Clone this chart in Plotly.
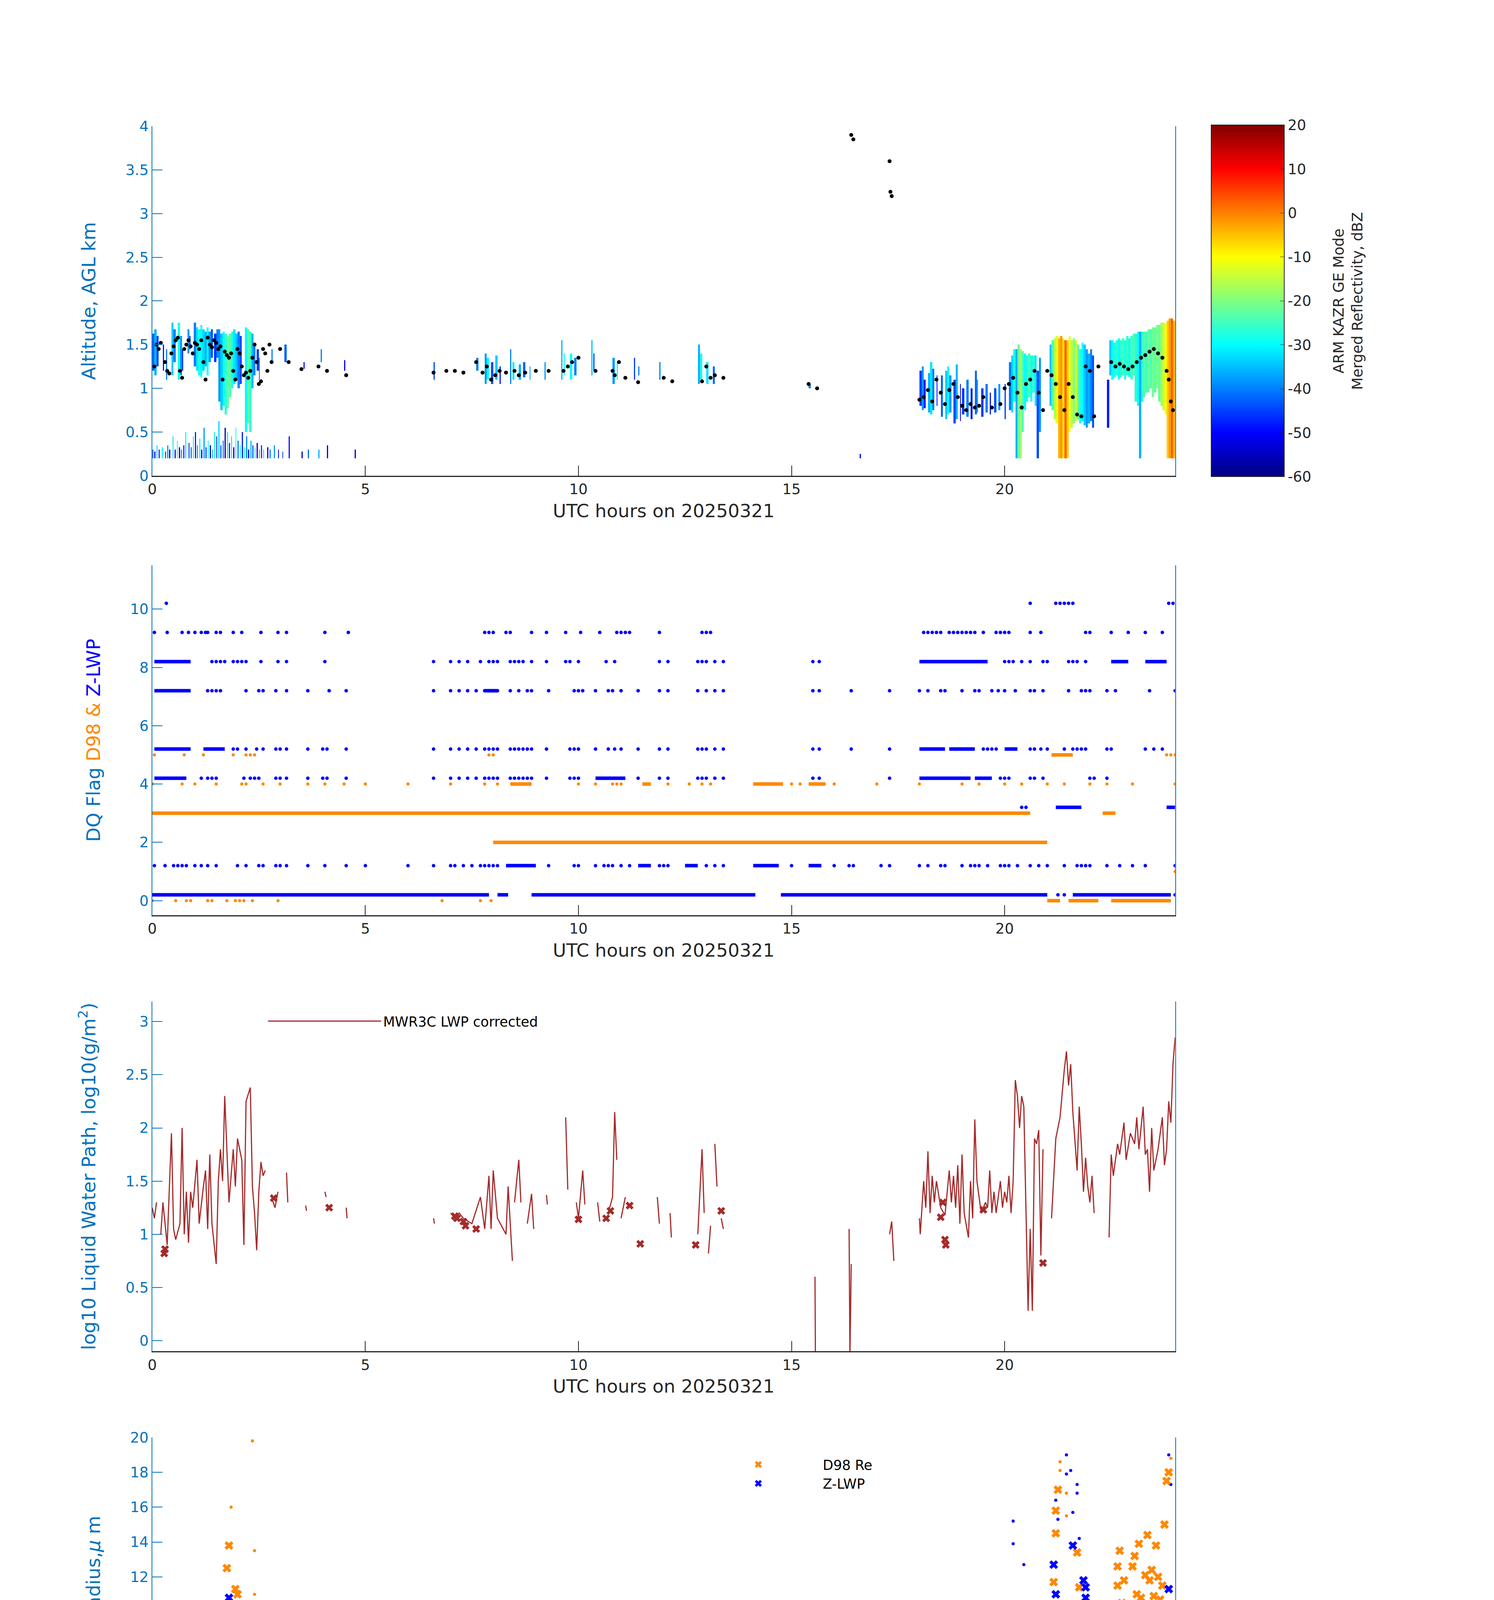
import numpy as np
import plotly.graph_objects as go

# ---------------- data ----------------
HOURS_TICKS = [0, 5, 10, 15, 20]

# Panel 1: KAZR reflectivity. Low-level clutter streaks (base 0.2 km)
clutter_t = [0.0, 0.05, 0.1, 0.15, 0.22, 0.3, 0.35, 0.4, 0.48, 0.52, 0.58, 0.62, 0.68, 0.72, 0.78,
             0.85, 0.9, 0.95, 1.0, 1.05, 1.1, 1.15, 1.2, 1.25, 1.3, 1.35, 1.4, 1.45, 1.5, 1.55,
             1.6, 1.65, 1.7, 1.75, 1.8, 1.85, 1.9, 1.95, 2.0, 2.05, 2.1, 2.15, 2.2, 2.25, 2.3,
             2.35, 2.4, 2.45, 2.5, 2.55, 2.6, 2.7, 2.75, 2.85, 2.95, 3.05, 3.2, 3.5, 3.65, 3.9,
             4.1, 4.75]
clutter_top = [0.3, 0.28, 0.35, 0.3, 0.33, 0.28, 0.36, 0.3, 0.45, 0.3, 0.4, 0.33, 0.3, 0.35, 0.5,
               0.38, 0.33, 0.45, 0.5, 0.36, 0.42, 0.3, 0.55, 0.33, 0.4, 0.36, 0.3, 0.5, 0.45, 0.62,
               0.35, 0.4, 0.55, 0.5, 0.38, 0.45, 0.33, 0.55, 0.4, 0.36, 0.5, 0.33, 0.45, 0.3, 0.4,
               0.36, 0.33, 0.38, 0.3, 0.35, 0.3, 0.33, 0.3, 0.36, 0.3, 0.28, 0.45, 0.28, 0.3, 0.3,
               0.35, 0.3]
clutter_dbz = [-40, -50, -35, -45, -30, -50, -38, -55, -33, -48, -30, -52, -36, -45, -28, -50, -40,
               -32, -47, -35, -29, -50, -38, -44, -31, -53, -37, -27, -49, -33, -42, -38, -55, -30,
               -46, -34, -52, -28, -41, -32, -48, -26, -39, -51, -35, -43, -30, -54, -37, -45, -33,
               -50, -40, -38, -52, -44, -48, -55, -42, -36, -50, -56]

# cloud columns: (start hour, width h, base km, top km, dBZ)
kazr_cols = [
    (0.0, 0.05, 1.2, 1.62, -42), (0.05, 0.05, 1.15, 1.68, -36), (0.1, 0.05, 1.25, 1.6, -45),
    (0.25, 0.025, 1.2, 1.5, -48), (0.32, 0.025, 1.1, 1.45, -40), (0.45, 0.05, 1.15, 1.74, -34),
    (0.5, 0.05, 1.3, 1.68, -40), (0.6, 0.05, 1.1, 1.74, -28), (0.65, 0.05, 1.15, 1.6, -38),
    (0.7, 0.025, 1.2, 1.45, -46), (0.82, 0.05, 1.4, 1.68, -38), (0.87, 0.025, 1.45, 1.6, -45),
    (0.98, 0.05, 1.25, 1.74, -40), (1.03, 0.05, 1.2, 1.7, -32), (1.08, 0.05, 1.15, 1.68, -28),
    (1.13, 0.05, 1.12, 1.72, -30), (1.18, 0.05, 1.2, 1.68, -33), (1.23, 0.05, 1.25, 1.66, -36),
    (1.28, 0.05, 1.15, 1.7, -30), (1.33, 0.05, 1.3, 1.65, -38), (1.38, 0.05, 1.35, 1.68, -44),
    (1.45, 0.05, 1.3, 1.62, -46), (1.5, 0.05, 1.35, 1.68, -40), (1.55, 0.05, 0.85, 1.68, -38),
    (1.6, 0.05, 0.75, 1.62, -34), (1.65, 0.05, 0.8, 1.65, -30), (1.7, 0.05, 0.7, 1.62, -26),
    (1.75, 0.05, 0.78, 1.6, -22), (1.8, 0.05, 0.9, 1.62, -24), (1.85, 0.05, 1.0, 1.65, -28),
    (1.9, 0.05, 1.05, 1.68, -32), (1.95, 0.05, 1.1, 1.62, -35), (2.0, 0.05, 1.0, 1.66, -40),
    (2.05, 0.05, 1.05, 1.6, -44), (2.18, 0.05, 0.5, 1.7, -30), (2.23, 0.05, 0.6, 1.68, -23),
    (2.28, 0.05, 0.5, 1.66, -26), (2.33, 0.05, 1.0, 1.62, -36), (2.38, 0.05, 1.15, 1.52, -40),
    (2.45, 0.05, 1.2, 1.45, -45), (2.5, 0.025, 1.1, 1.35, -42), (2.8, 0.025, 1.3, 1.45, -40),
    (3.1, 0.05, 1.3, 1.5, -42), (3.55, 0.025, 1.22, 1.3, -48), (3.95, 0.025, 1.3, 1.45, -40),
    (4.5, 0.025, 1.2, 1.32, -50),
    (6.6, 0.025, 1.1, 1.3, -45), (7.6, 0.05, 1.2, 1.35, -40), (7.8, 0.05, 1.05, 1.4, -38),
    (7.85, 0.05, 1.1, 1.35, -30), (7.95, 0.05, 1.05, 1.3, -44), (8.05, 0.05, 1.1, 1.38, -34),
    (8.15, 0.025, 1.05, 1.25, -48), (8.4, 0.025, 1.05, 1.45, -40), (8.45, 0.05, 1.1, 1.3, -32),
    (8.6, 0.05, 1.1, 1.28, -36), (8.7, 0.05, 1.12, 1.3, -42), (8.85, 0.025, 1.1, 1.25, -38),
    (9.2, 0.025, 1.1, 1.3, -38), (9.6, 0.025, 1.1, 1.55, -36), (9.65, 0.025, 1.15, 1.4, -28),
    (9.8, 0.05, 1.1, 1.4, -30), (9.9, 0.05, 1.15, 1.35, -40), (10.3, 0.025, 1.15, 1.55, -35),
    (10.35, 0.025, 1.2, 1.4, -45), (10.8, 0.05, 1.05, 1.35, -38), (10.9, 0.025, 1.1, 1.3, -30),
    (11.3, 0.025, 1.1, 1.35, -45), (11.4, 0.025, 1.15, 1.25, -40), (11.9, 0.025, 1.1, 1.3, -40),
    (12.8, 0.05, 1.05, 1.5, -36), (12.85, 0.05, 1.1, 1.4, -28), (13.0, 0.05, 1.05, 1.3, -32),
    (13.15, 0.05, 1.05, 1.25, -42), (15.4, 0.05, 1.0, 1.05, -40), (16.6, 0.025, 0.2, 0.25, -50),
    (18.0, 0.05, 0.8, 1.2, -45), (18.05, 0.05, 0.75, 1.25, -38), (18.1, 0.05, 0.78, 1.1, -48),
    (18.2, 0.05, 0.72, 1.18, -36), (18.25, 0.05, 0.7, 1.3, -32), (18.3, 0.05, 0.75, 1.22, -40),
    (18.4, 0.025, 0.8, 1.15, -50), (18.5, 0.05, 0.68, 1.15, -42), (18.6, 0.05, 0.65, 1.2, -34),
    (18.65, 0.05, 0.7, 1.25, -30), (18.7, 0.05, 0.72, 1.15, -38), (18.8, 0.05, 0.6, 1.1, -44),
    (18.85, 0.05, 0.66, 1.28, -36), (18.95, 0.025, 0.62, 1.05, -50), (19.0, 0.05, 0.7, 1.0, -46),
    (19.1, 0.05, 0.68, 1.1, -40), (19.2, 0.05, 0.65, 1.0, -48), (19.3, 0.05, 0.7, 1.2, -42),
    (19.35, 0.025, 0.72, 1.1, -36), (19.45, 0.05, 0.68, 1.0, -45), (19.55, 0.05, 0.72, 1.05, -40),
    (19.65, 0.025, 0.7, 0.95, -48), (19.75, 0.05, 0.72, 1.0, -44), (19.85, 0.05, 0.75, 1.05, -38),
    (20.0, 0.025, 0.65, 1.05, -46), (20.1, 0.05, 0.75, 1.3, -40), (20.15, 0.05, 0.72, 1.37, -33),
    (20.2, 0.05, 0.85, 1.45, -28), (20.25, 0.05, 0.2, 1.45, -36), (20.3, 0.05, 0.2, 1.49, -22),
    (20.35, 0.05, 0.2, 1.45, -18), (20.4, 0.05, 0.5, 1.42, -24), (20.45, 0.05, 0.75, 1.4, -30),
    (20.5, 0.05, 0.85, 1.37, -28), (20.55, 0.05, 0.9, 1.4, -24), (20.6, 0.05, 0.85, 1.37, -30),
    (20.65, 0.05, 0.95, 1.38, -26), (20.7, 0.05, 0.8, 1.37, -32), (20.75, 0.05, 0.2, 1.2, -44),
    (20.8, 0.05, 0.5, 1.35, -38), (21.05, 0.05, 0.8, 1.5, -34), (21.1, 0.05, 0.75, 1.55, -24),
    (21.15, 0.05, 0.65, 1.58, -16), (21.2, 0.05, 0.6, 1.6, -12), (21.25, 0.05, 0.2, 1.58, -4),
    (21.3, 0.05, 0.2, 1.6, -2), (21.35, 0.05, 0.2, 1.58, -8), (21.4, 0.05, 0.2, 1.56, 2),
    (21.45, 0.05, 0.2, 1.55, -6), (21.5, 0.05, 0.5, 1.6, -12), (21.55, 0.05, 0.55, 1.55, -16),
    (21.6, 0.05, 0.6, 1.58, -20), (21.65, 0.05, 0.62, 1.55, -14), (21.7, 0.05, 0.65, 1.5, -24),
    (21.75, 0.05, 0.6, 1.45, -28), (21.8, 0.05, 0.62, 1.52, -30), (21.85, 0.05, 0.58, 1.5, -34),
    (21.9, 0.05, 0.55, 1.45, -38), (21.95, 0.05, 0.6, 1.4, -36), (22.0, 0.05, 0.62, 1.45, -40),
    (22.05, 0.05, 0.55, 1.38, -44),
    (22.4, 0.05, 0.55, 1.1, -48), (22.45, 0.05, 1.15, 1.55, -34), (22.5, 0.05, 1.1, 1.55, -30),
    (22.55, 0.05, 1.12, 1.52, -28), (22.6, 0.05, 1.15, 1.55, -26), (22.65, 0.05, 1.1, 1.57, -30),
    (22.7, 0.05, 1.12, 1.55, -27), (22.75, 0.05, 1.15, 1.58, -25), (22.8, 0.05, 1.1, 1.56, -28),
    (22.85, 0.05, 1.15, 1.6, -26), (22.9, 0.05, 1.12, 1.58, -29), (22.95, 0.05, 1.1, 1.6, -25),
    (23.0, 0.05, 1.15, 1.62, -24), (23.05, 0.05, 0.85, 1.63, -27), (23.1, 0.05, 0.8, 1.65, -30),
    (23.15, 0.05, 0.2, 1.64, -36), (23.2, 0.05, 0.85, 1.66, -26), (23.25, 0.05, 0.9, 1.64, -23),
    (23.3, 0.05, 0.95, 1.66, -25), (23.35, 0.05, 0.95, 1.68, -22), (23.4, 0.05, 1.0, 1.68, -24),
    (23.45, 0.05, 0.9, 1.7, -21), (23.5, 0.05, 0.95, 1.7, -23), (23.55, 0.05, 1.0, 1.72, -20),
    (23.6, 0.05, 0.85, 1.72, -22), (23.65, 0.05, 0.8, 1.74, -18), (23.7, 0.05, 0.75, 1.74, -14),
    (23.75, 0.05, 0.7, 1.76, -10), (23.8, 0.05, 0.2, 1.78, -6), (23.85, 0.05, 0.2, 1.8, -2),
    (23.9, 0.05, 0.2, 1.8, 3), (23.95, 0.05, 0.2, 1.78, -4),
]

ceil_t = [0.05, 0.1, 0.15, 0.2, 0.3, 0.35, 0.4, 0.45, 0.5, 0.55, 0.6, 0.65, 0.7, 0.75, 0.8, 0.85,
          0.9, 0.95, 1.0, 1.05, 1.1, 1.15, 1.2, 1.25, 1.3, 1.35, 1.4, 1.45, 1.5, 1.55, 1.6, 1.65,
          1.7, 1.75, 1.8, 1.85, 1.9, 1.95, 2.0, 2.05, 2.1, 2.15, 2.2, 2.25, 2.3, 2.35, 2.4, 2.45,
          2.5, 2.55, 2.6, 2.65, 2.7, 2.75, 2.8, 3.0, 3.2, 3.5, 3.9, 4.1, 4.55,
          6.6, 6.9, 7.1, 7.3, 7.6, 7.75, 7.85, 7.95, 8.05, 8.15, 8.3, 8.5, 8.6, 8.75, 9.0, 9.3,
          9.65, 9.75, 9.85, 10.0, 10.4, 10.8, 10.85, 10.95, 11.1, 11.4, 12.0, 12.2, 12.9, 13.0,
          13.1, 13.2, 13.4, 15.4, 15.6, 16.4, 16.45, 17.3, 17.32, 17.35,
          18.0, 18.1, 18.2, 18.3, 18.4, 18.5, 18.6, 18.7, 18.8, 18.9, 19.0, 19.1, 19.2, 19.3,
          19.4, 19.5, 19.7, 19.9, 20.0, 20.1, 20.2, 20.3, 20.4, 20.5, 20.6, 20.7, 20.8, 20.9,
          21.0, 21.1, 21.2, 21.3, 21.4, 21.5, 21.6, 21.7, 21.8, 21.9, 22.0, 22.1, 22.2,
          22.5, 22.6, 22.7, 22.8, 22.9, 23.0, 23.1, 23.2, 23.3, 23.4, 23.5, 23.6, 23.7, 23.8,
          23.85, 23.9, 23.95]
ceil_z = [1.25, 1.5, 1.45, 1.52, 1.3, 1.2, 1.17, 1.4, 1.48, 1.55, 1.58, 1.2, 1.12, 1.45, 1.5, 1.55,
          1.48, 1.4, 1.52, 1.5, 1.45, 1.55, 1.3, 1.1, 1.58, 1.5, 1.47, 1.55, 1.52, 1.45, 1.48, 1.1,
          1.42, 1.38, 1.35, 1.4, 1.2, 1.1, 1.45, 1.4, 1.25, 1.15, 1.18, 1.12, 1.2, 1.35, 1.5, 1.3,
          1.05, 1.08, 1.45, 1.4, 1.2, 1.5, 1.3, 1.45, 1.3, 1.22, 1.25, 1.2, 1.15,
          1.18, 1.2, 1.2, 1.18, 1.3, 1.18, 1.25, 1.1, 1.15, 1.2, 1.18, 1.2, 1.15, 1.18, 1.2, 1.2,
          1.2, 1.25, 1.3, 1.35, 1.2, 1.2, 1.15, 1.3, 1.12, 1.07, 1.12, 1.08, 1.08, 1.25,
          1.12, 1.15, 1.12, 1.05, 1.0, 3.9, 3.85, 3.6, 3.25, 3.2,
          0.87, 0.9, 0.98, 0.85, 1.1, 0.95, 0.82, 0.98, 1.05, 0.9, 0.8, 0.75, 0.82, 0.78,
          0.8, 0.9, 0.78, 0.82, 1.0, 1.05, 1.12, 0.95, 0.78, 1.05, 1.1, 1.2, 0.95, 0.75,
          1.2, 1.15, 1.05, 0.9, 0.75, 1.05, 0.9, 0.7, 0.68, 1.25, 1.2, 0.68, 1.25,
          1.3, 1.25, 1.28, 1.25, 1.22, 1.25, 1.3, 1.35, 1.38, 1.42, 1.45, 1.4, 1.35, 1.2,
          1.1, 0.85, 0.75]

# Panel 2: DQ flags. Z-LWP (blue) isolated points per level and dense runs
zlwp_levels = [10.2, 9.2, 8.2, 7.2, 5.2, 4.2, 3.2, 1.2, 0.2]
zlwp_times = [
    [0.33, 20.6, 21.2, 21.3, 21.4, 21.5, 21.6, 23.85, 23.95],
    [0.05, 0.35, 0.7, 0.85, 1.0, 1.15, 1.25, 1.3, 1.5, 1.6, 1.9, 2.1, 2.55, 2.95, 3.15, 4.05, 4.6,
     7.8, 7.9, 8.0, 8.3, 8.4, 8.9, 9.25, 9.7, 10.05, 10.5, 10.9, 11.0, 11.1, 11.2, 11.9, 12.9, 13.0,
     13.1, 18.1, 18.2, 18.3, 18.4, 18.5, 18.7, 18.8, 18.9, 19.0, 19.1, 19.2, 19.3, 19.5, 19.8, 19.9,
     20.0, 20.1, 20.6, 20.85, 21.9, 22.0, 22.5, 22.9, 23.3, 23.7],
    [1.4, 1.5, 1.6, 1.7, 1.9, 2.0, 2.1, 2.2, 2.55, 2.95, 3.15, 4.05, 6.6, 7.0, 7.2, 7.4, 7.7, 7.9,
     8.0, 8.1, 8.4, 8.5, 8.6, 8.7, 8.9, 9.25, 9.7, 9.8, 10.0, 10.65, 10.85, 11.9, 12.1, 12.8, 12.9,
     13.0, 13.2, 13.4, 15.5, 15.65, 20.0, 20.1, 20.2, 20.4, 20.6, 20.9, 21.0, 21.5, 21.6, 21.7, 21.9],
    [1.3, 1.4, 1.5, 1.6, 2.2, 2.5, 2.6, 2.9, 3.15, 3.65, 4.15, 4.55, 6.6, 7.0, 7.2, 7.4, 7.6, 7.8,
     7.9, 8.0, 8.1, 8.4, 8.6, 8.8, 8.9, 9.3, 9.9, 10.0, 10.1, 10.4, 10.7, 10.8, 11.0, 11.4, 11.9,
     12.1, 12.8, 13.0, 13.2, 13.4, 15.5, 15.65, 16.4, 17.3, 18.0, 18.2, 18.5, 18.6, 19.0, 19.3,
     19.4, 19.7, 19.85, 20.0, 20.25, 20.6, 20.7, 20.9, 21.5, 21.8, 21.9, 22.0, 22.4, 22.6, 23.4, 24.0],
    [1.9, 2.0, 2.2, 2.45, 2.6, 2.9, 3.0, 3.15, 3.65, 4.0, 4.1, 4.55, 6.6, 7.0, 7.2, 7.4, 7.6, 7.8,
     7.9, 8.0, 8.1, 8.4, 8.5, 8.6, 8.7, 8.8, 8.9, 9.25, 9.8, 9.9, 10.0, 10.4, 10.7, 10.85, 11.0,
     11.4, 11.9, 12.1, 12.8, 12.9, 13.0, 13.2, 13.4, 15.5, 15.65, 16.4, 17.3, 19.5, 19.6, 19.7,
     19.8, 20.6, 20.7, 20.85, 21.0, 21.4, 21.6, 21.7, 21.8, 21.9, 22.4, 22.5, 23.3, 23.5, 23.7],
    [1.15, 1.3, 1.4, 1.5, 2.15, 2.3, 2.4, 2.5, 2.9, 3.0, 3.15, 3.65, 4.0, 4.1, 4.55, 6.6, 7.0, 7.2,
     7.4, 7.6, 7.8, 7.9, 8.0, 8.1, 8.4, 8.5, 8.6, 8.7, 8.8, 8.9, 9.25, 9.8, 9.9, 10.0, 11.4, 11.9,
     12.1, 12.8, 12.9, 13.0, 13.2, 13.4, 15.5, 15.65, 17.3, 19.9, 20.0, 20.1, 20.6, 20.7, 20.9,
     22.0, 22.1, 22.4],
    [20.4, 20.5],
    [0.05, 0.3, 0.5, 0.6, 0.7, 0.8, 1.0, 1.15, 1.3, 1.5, 2.0, 2.2, 2.5, 2.6, 2.9, 3.0, 3.15, 3.65,
     4.05, 4.55, 5.0, 6.0, 6.6, 7.0, 7.1, 7.3, 7.5, 7.7, 7.8, 7.9, 8.0, 8.1, 9.3, 9.9, 10.0, 10.4,
     10.6, 10.7, 10.8, 11.0, 11.2, 11.9, 12.0, 12.1, 13.0, 13.2, 13.4, 15.0, 16.0, 16.35, 16.45,
     17.1, 17.3, 18.0, 18.2, 18.5, 18.6, 19.0, 19.2, 19.3, 19.4, 19.6, 19.9, 20.0, 20.1, 20.3,
     20.6, 20.8, 21.0, 21.4, 21.7, 21.8, 21.9, 22.0, 22.4, 22.7, 23.0, 23.3, 24.0],
    [21.25, 21.4, 24.0],
]
zlwp_runs = [(8.2, 0.05, 0.9), (8.2, 18.0, 19.6), (8.2, 22.5, 22.9), (8.2, 23.3, 23.8),
             (7.2, 0.05, 0.9), (7.2, 7.8, 8.1), (5.2, 0.05, 0.9), (5.2, 1.2, 1.7),
             (5.2, 18.0, 18.6), (5.2, 18.7, 19.3), (5.2, 20.0, 20.3), (4.2, 0.05, 0.8),
             (4.2, 10.4, 11.1), (4.2, 18.0, 19.2), (4.2, 19.3, 19.7), (3.2, 21.2, 21.8),
             (3.2, 23.8, 24.0), (1.2, 8.3, 9.0), (1.2, 11.4, 11.7), (1.2, 12.5, 12.8),
             (1.2, 14.1, 14.7), (1.2, 15.4, 15.7), (0.2, 0.0, 7.9), (0.2, 8.1, 8.35),
             (0.2, 8.9, 14.15), (0.2, 14.75, 21.0), (0.2, 21.6, 23.9)]

d98_levels = [5, 4, 1, 0]
d98_times = [
    [0.05, 0.75, 1.2, 1.9, 2.2, 2.3, 2.4, 7.9, 8.0, 23.8, 23.9, 24.0],
    [0.0, 0.7, 1.0, 1.5, 2.1, 2.2, 2.6, 3.0, 3.65, 4.05, 4.5, 5.0, 6.0, 7.0, 7.8, 8.1, 10.0, 10.4,
     10.8, 10.9, 11.0, 12.1, 12.6, 12.9, 13.1, 15.0, 15.2, 16.0, 17.0, 18.0, 19.0, 19.4, 20.0, 20.4,
     21.0, 21.4, 22.0, 22.4, 23.0, 24.0],
    [24.0],
    [0.0, 0.55, 0.8, 0.9, 1.3, 1.4, 1.75, 1.95, 2.05, 2.15, 2.35, 2.95, 6.8, 7.7, 7.95],
]
d98_runs = [(5, 21.1, 21.6), (4, 8.4, 8.9), (4, 11.5, 11.7), (4, 14.1, 14.8), (4, 15.4, 15.8),
            (3, 0.0, 20.6), (3, 22.3, 22.6), (2, 8.0, 21.0), (0, 21.0, 21.3), (0, 21.5, 22.2),
            (0, 22.5, 23.9)]

# Panel 3: MWR3C LWP (log10), None = gap
lwp_t = [0.0, 0.05, 0.1, None, 0.2, 0.25, 0.35, 0.45, 0.5, 0.55, 0.65, 0.7, 0.75, 0.8, 0.85, 0.9,
         0.95, 1.05, 1.1, 1.2, 1.25, 1.3, 1.35, 1.4, 1.5, 1.55, 1.6, 1.65, 1.7, 1.8, 1.9, 1.95, 2.0,
         2.1, 2.15, 2.2, 2.3, 2.35, 2.4, 2.45, 2.5, 2.55, 2.6, 2.65, None, 2.8, 2.88, 2.95, None,
         3.15, 3.18, None, 3.6, 3.62, None, 4.05, 4.08, None, 4.55, 4.57, None, 6.6, 6.62, None,
         7.0, 7.1, 7.2, 7.3, 7.5, 7.7, 7.8, 7.9, 7.95, 8.0, 8.1, 8.3, 8.35, 8.45, None, 8.5, 8.6,
         8.65, None, 8.8, 8.9, 8.95, None, 9.25, 9.27, None, 9.7, 9.75, None, 9.95, 10.0, 10.1,
         10.15, None, 10.45, 10.5, None, 10.7, 10.8, 10.85, 10.9, None, 11.0, 11.1, None, 11.85,
         11.9, None, 12.15, 12.18, None, 12.8, 12.9, 12.95, None, 13.05, 13.1, None, 13.2, 13.25,
         None, 13.35, 13.4, None, 15.55, 15.56, None, 16.35, 16.37, 16.4, None, 17.3, 17.35, 17.4,
         None, 18.0, 18.02, 18.1, 18.15, 18.2, 18.25, 18.3, 18.35, 18.4, 18.5, 18.6, 18.7, 18.75,
         18.8, 18.85, 18.9, 18.95, 19.0, 19.05, 19.15, 19.2, 19.25, 19.3, 19.35, 19.45, 19.55,
         19.6, 19.65, 19.7, 19.75, 19.8, 19.9, 19.95, 20.0, 20.05, 20.1, 20.15, 20.2, 20.25, 20.3,
         20.35, 20.4, 20.45, 20.55, 20.6, 20.65, 20.7, 20.75, 20.8, 20.85, 20.9, None, 21.1, 21.2,
         21.3, 21.4, 21.45, 21.5, 21.55, 21.6, 21.7, 21.75, 21.8, 21.85, 21.9, 21.95, 22.0, 22.05,
         22.1, None, 22.45, 22.5, 22.55, 22.65, 22.7, 22.8, 22.85, 22.95, 23.05, 23.1, 23.15,
         23.25, 23.3, 23.35, 23.4, 23.45, 23.5, 23.6, 23.7, 23.75, 23.8, 23.85, 23.9, 23.95, 24.0]
lwp_v = [1.25, 1.15, 1.3, None, 1.0, 1.3, 0.9, 1.95, 1.05, 0.95, 1.1, 2.0, 1.0, 1.4, 0.92, 1.4,
         1.25, 1.7, 1.1, 1.45, 1.6, 1.05, 1.75, 1.1, 0.72, 1.5, 1.8, 1.5, 2.3, 1.3, 1.8, 1.45, 1.9,
         1.7, 0.9, 2.25, 2.38, 1.45, 1.2, 0.85, 1.4, 1.68, 1.55, 1.6, None, 1.35, 1.25, 1.4, None,
         1.58, 1.3, None, 1.27, 1.22, None, 1.4, 1.35, None, 1.25, 1.15, None, 1.15, 1.1, None,
         1.2, 1.15, 1.2, 1.15, 1.1, 1.35, 1.05, 1.55, 1.05, 1.6, 1.15, 1.0, 1.45, 0.75, None, 1.3,
         1.7, 1.3, None, 1.1, 1.38, 1.05, None, 1.37, 1.28, None, 2.1, 1.42, None, 1.3, 1.15, 1.6,
         1.28, None, 1.3, 1.12, None, 1.2, 1.35, 2.15, 1.7, None, 1.15, 1.35, None, 1.35, 1.1,
         None, 1.2, 0.97, None, 1.0, 1.8, 1.2, None, 0.82, 1.08, None, 1.85, 1.45, None, 1.15,
         1.05, None, 0.6, -0.15, None, 1.05, -0.15, 0.72, None, 1.0, 1.12, 0.75, None, 1.15, 1.0,
         1.5, 1.25, 1.78, 1.2, 1.55, 1.3, 1.5, 1.25, 1.18, 1.6, 1.3, 1.55, 1.25, 1.65, 1.1, 1.75,
         1.2, 0.97, 1.5, 1.15, 2.08, 1.5, 1.2, 1.3, 1.25, 1.6, 1.2, 1.4, 1.2, 1.5, 1.25, 1.4, 1.3,
         1.55, 1.2, 1.5, 2.45, 2.3, 2.0, 2.3, 2.2, 0.28, 1.05, 0.28, 1.9, 1.85, 1.98, 0.8, 1.8,
         None, 1.15, 1.9, 2.1, 2.55, 2.72, 2.4, 2.6, 2.15, 1.6, 2.2, 1.85, 1.4, 1.72, 1.45, 1.3,
         1.55, 1.2, None, 0.97, 1.75, 1.55, 1.85, 1.75, 2.05, 1.7, 1.95, 1.85, 2.1, 1.8, 2.2, 1.75,
         1.8, 1.4, 2.0, 1.6, 1.8, 2.1, 1.65, 1.8, 2.25, 2.05, 2.6, 2.85]
lwp_mark_t = [0.28, 0.3, 2.85, 4.15, 7.1, 7.15, 7.3, 7.35, 7.6, 10.0, 10.65, 10.75, 11.2, 11.45,
              12.75, 13.35, 18.5, 18.55, 18.6, 18.62, 19.5, 20.9]
lwp_mark_v = [0.82, 0.86, 1.34, 1.25, 1.17, 1.15, 1.12, 1.08, 1.05, 1.14, 1.15, 1.22, 1.27, 0.91,
              0.9, 1.22, 1.16, 1.3, 0.95, 0.9, 1.23, 0.73]

# Panel 4: effective radius (um)
re_d98x_t = [1.3, 1.35, 1.4, 1.35, 1.4, 1.4, 0.9, 1.75, 1.8, 1.8, 1.9, 1.95, 2.0, 2.05, 2.1, 2.15,
             2.15, 2.15, 2.4, 2.95, 7.95, 21.1, 21.1, 21.15, 21.15, 21.2, 21.2, 21.25, 21.6, 21.65,
             21.7, 21.75, 21.8, 21.85, 21.9, 21.9, 22.0, 22.0, 22.1, 22.1, 22.15, 22.65, 22.65, 22.7,
             22.75, 22.8, 22.85, 22.85, 22.9, 23.0, 23.05, 23.1, 23.15, 23.2, 23.25, 23.3, 23.35,
             23.4, 23.45, 23.5, 23.55, 23.6, 23.65, 23.7, 23.75, 23.8, 23.85]
re_d98x_v = [9.2, 8.0, 8.1, 6.0, 5.7, 5.1, 7.6, 12.5, 13.8, 9.8, 8.2, 11.3, 11.0, 9.6, 9.9, 8.6,
             7.0, 5.8, 5.8, 6.4, 7.4, 5.8, 6.9, 8.6, 11.7, 14.5, 15.8, 17.0, 9.0, 6.4, 13.4, 11.4,
             9.5, 6.5, 5.9, 5.0, 5.3, 4.7, 4.2, 3.7, 2.9, 11.5, 12.6, 13.5, 10.5, 11.8, 9.7, 8.9,
             10.4, 12.6, 13.2, 11.0, 13.9, 10.8, 9.5, 12.1, 14.4, 11.8, 12.4, 10.9, 13.8, 12.0, 10.7,
             11.5, 15.0, 17.5, 18.0]
re_d98d_t = [0.05, 0.1, 0.75, 1.85, 2.35, 2.4, 2.4, 2.2, 7.85, 21.1, 21.1, 21.3, 21.3, 21.45, 21.45,
             21.7, 21.75, 22.0, 23.9]
re_d98d_v = [5.2, 7.2, 4.7, 16.0, 19.8, 13.5, 11.0, 6.7, 7.0, 4.0, 4.9, 18.6, 18.1, 15.5, 16.8,
             10.0, 8.3, 6.1, 18.8]
re_zx_t = [0.35, 0.45, 1.1, 1.25, 1.3, 1.35, 1.5, 1.6, 1.65, 1.75, 1.8, 1.8, 1.85, 1.85, 1.9, 1.95,
           2.0, 2.05, 2.3, 2.35, 2.4, 2.4, 18.8, 18.85, 19.25, 20.3, 20.3, 20.35, 20.45, 20.55, 20.7,
           20.7, 20.75, 21.15, 21.2, 21.6, 21.7, 21.85, 21.9, 21.9, 21.95, 21.95, 22.05, 22.55,
           22.6, 22.7, 22.8, 22.85, 22.9, 23.0, 23.05, 23.1, 23.15, 23.2, 23.3, 23.35, 23.4, 23.5,
           23.55, 23.6, 23.75, 23.8, 23.85]
re_zx_v = [6.6, 8.2, 6.0, 6.4, 7.0, 6.5, 6.8, 6.6, 6.3, 8.8, 10.8, 9.5, 10.3, 7.8, 9.0, 6.8, 6.6,
           7.8, 8.5, 8.0, 7.0, 8.8, 7.0, 6.7, 6.2, 8.7, 7.9, 9.3, 8.6, 7.1, 10.0, 9.2, 8.0, 12.7,
           11.0, 13.8, 8.1, 11.8, 11.4, 10.8, 9.4, 7.9, 7.4, 6.8, 6.0, 7.2, 6.7, 6.2, 7.4, 8.6, 9.8,
           8.3, 7.2, 7.5, 6.3, 7.6, 8.5, 6.3, 8.0, 8.3, 7.3, 9.8, 11.3]
re_zd_t = [0.05, 0.1, 0.1, 0.3, 0.35, 0.45, 0.5, 0.7, 0.75, 0.8, 0.85, 0.9, 1.05, 1.05, 1.15, 1.2,
           1.25, 1.5, 1.55, 2.1, 2.1, 2.5, 2.95, 3.15, 3.15, 4.05, 4.05, 4.6, 7.85, 7.95, 8.0, 8.05,
           8.1, 8.35, 8.4, 8.55, 8.55, 8.55, 8.9, 9.25, 9.7, 9.7, 9.8, 10.0, 10.05, 10.05, 10.45,
           10.8, 10.8, 10.85, 10.9, 10.95, 11.05, 11.15, 11.9, 12.9, 12.95, 12.95, 12.95, 13.1,
           13.15, 13.0, 18.1, 18.15, 18.25, 18.3, 18.3, 18.35, 18.4, 18.5, 18.55, 18.6, 18.7, 18.8,
           18.85, 18.9, 18.95, 19.0, 19.0, 19.05, 19.2, 19.35, 19.45, 19.5, 19.55, 19.7, 19.9,
           19.95, 19.95, 20.0, 20.05, 20.1, 20.2, 20.2, 20.45, 20.6, 20.6, 20.85, 21.05, 21.2,
           21.25, 21.45, 21.45, 21.55, 21.6, 21.7, 21.7, 21.75, 21.6, 22.05, 22.65, 22.9, 23.2,
           23.6, 23.7, 23.85, 23.9]
re_zd_v = [3.7, 4.6, 6.1, 9.3, 3.4, 8.9, 6.4, 9.0, 2.9, 6.0, 5.5, 6.4, 5.3, 8.3, 4.2, 3.2, 5.7,
           5.4, 5.0, 3.1, 5.8, 3.8, 2.6, 2.5, 4.0, 3.8, 2.7, 4.0, 3.5, 4.3, 3.6, 5.5, 6.0, 4.6, 4.3,
           5.5, 6.8, 2.3, 2.7, 2.3, 5.4, 5.8, 3.1, 6.0, 3.7, 5.3, 2.0, 5.8, 4.5, 5.5, 3.3, 5.2, 4.1,
           3.2, 4.0, 6.0, 4.0, 2.9, 2.6, 4.3, 3.6, 5.6, 6.1, 4.4, 3.0, 6.5, 5.0, 3.6, 6.6, 2.6, 2.8,
           7.8, 4.8, 3.8, 4.6, 7.9, 5.0, 2.2, 3.7, 4.8, 4.6, 3.6, 4.5, 4.1, 2.2, 3.8, 2.0, 5.1, 6.2,
           4.9, 6.8, 4.3, 15.2, 13.9, 12.7, 5.8, 4.9, 2.5, 8.5, 16.4, 15.3, 19.0, 17.9, 18.1, 15.7,
           16.8, 17.3, 14.2, 9.8, 6.2, 5.6, 6.3, 5.9, 5.6, 6.5, 19.0, 17.3]

# Panel 5: droplet concentration (#/cc)
nd_d98x_t = [1.35, 1.3, 1.4, 1.3, 0.9, 1.75, 1.8, 1.9, 1.9, 1.95, 2.0, 2.05, 2.1, 2.1, 2.15, 2.35,
             2.95, 7.95, 21.1, 21.1, 21.15, 21.15, 21.2, 21.25, 21.55, 21.6, 21.65, 21.7, 21.75,
             21.8, 21.8, 21.85, 21.9, 21.9, 21.95, 22.0, 22.0, 22.05, 22.05, 22.6, 22.6, 22.65,
             22.7, 22.75, 22.8, 22.8, 22.85, 22.9, 22.95, 23.0, 23.05, 23.1, 23.15, 23.2, 23.25,
             23.3, 23.35, 23.4, 23.45, 23.5, 23.55, 23.6, 23.65, 23.7, 23.75, 23.8]
nd_d98x_v = [297, 79, 113, 54, 84, 33, 48, 105, 175, 63, 25, 70, 48, 38, 80, 3, 150, 108, 100,
             157, 57, 45, 28, 20, 70, 46, 36, 122, 75, 63, 248, 287, 182, 160, 216, 237, 265, 282,
             105, 50, 28, 45, 32, 55, 80, 107, 90, 65, 72, 40, 50, 22, 15, 68, 80, 60, 45, 32, 28,
             67, 50, 38, 48, 25, 40, 12]
nd_d98d_t = [0.05, 0.05, 0.1, 1.2, 1.3, 1.85, 1.8, 2.3, 2.35, 2.4, 2.4, 2.45, 2.2, 7.85, 7.85,
             7.9, 21.05, 21.6, 21.6, 21.65, 22.0, 23.85]
nd_d98d_v = [230, 155, 31, 105, 90, 15, 6, 8, 25, 120, 156, 68, 30, 102, 93, 69, 85, 227, 184,
             110, 99, 8]
nd_zx_t = [0.35, 0.45, 1.1, 1.2, 1.3, 1.3, 1.3, 1.35, 1.6, 1.65, 1.7, 1.75, 1.75, 1.75, 1.7, 1.8,
           1.8, 1.8, 1.8, 1.85, 1.85, 1.85, 1.9, 1.9, 1.95, 2.1, 2.3, 2.3, 2.3, 2.3, 2.35, 2.4,
           2.35, 18.8, 18.85, 20.3, 20.3, 20.3, 20.35, 20.35, 20.45, 20.5, 20.5, 20.55, 20.5,
           20.55, 20.65, 20.7, 20.75, 20.75, 20.8, 21.15, 21.15, 21.25, 21.3, 21.55, 21.65, 21.75,
           21.8, 21.85, 21.85, 21.95, 22.0, 22.05, 22.5, 22.5, 22.55, 22.6, 22.65, 22.7, 22.75,
           22.8, 22.85, 22.9, 22.95, 23.0, 23.05, 23.05, 23.1, 23.1, 23.15, 23.15, 23.2, 23.25,
           23.3, 23.3, 23.35, 23.4, 23.45, 23.5, 23.5, 23.55, 23.6, 23.6, 23.65, 23.7, 23.7, 23.75,
           23.8, 23.8, 23.85, 23.85, 23.9, 23.95]
nd_zx_v = [67, 90, 266, 136, 200, 165, 122, 99, 81, 117, 129, 71, 55, 37, 265, 174, 123, 104, 91,
           170, 73, 45, 265, 180, 39, 74, 208, 170, 143, 100, 147, 138, 170, 143, 120, 271, 243, 96,
           226, 240, 204, 190, 147, 145, 110, 103, 79, 55, 97, 125, 112, 37, 55, 8, 3, 100, 30, 100,
           36, 37, 25, 70, 143, 108, 118, 140, 188, 215, 192, 245, 215, 212, 238, 275, 196, 228,
           132, 88, 175, 115, 156, 216, 198, 186, 112, 145, 232, 150, 214, 160, 200, 236, 214, 110,
           105, 134, 157, 175, 172, 112, 105, 70, 61, 13]
nd_zd_t = [0.1, 0.15, 0.35, 0.45, 0.5, 0.7, 0.75, 0.9, 0.95, 1.0, 1.05, 1.1, 1.1, 1.15, 1.15, 1.2,
           1.25, 1.45, 1.6, 1.65, 1.65, 1.7, 1.9, 1.9, 2.05, 2.1, 2.2, 2.25, 2.3, 2.4, 7.85, 7.9,
           7.95, 8.0, 8.4, 8.6, 8.6, 8.6, 8.4, 10.1, 10.8, 11.0, 12.8, 13.1, 18.1, 18.2, 18.2, 18.3,
           18.35, 18.35, 18.5, 18.7, 18.75, 18.8, 18.9, 18.95, 19.0, 19.05, 19.1, 19.1, 19.3, 19.35,
           19.45, 19.6, 19.4, 19.95, 20.1, 20.1, 20.05, 20.2, 20.25, 20.35, 20.4, 20.6, 20.7, 20.8,
           20.8, 21.1, 21.15, 21.2, 21.25, 21.3, 21.45, 21.5, 21.6, 21.6, 21.65, 21.9, 22.0, 22.05,
           22.1, 22.5, 22.5, 22.55, 22.65, 22.75, 22.75, 22.8, 22.9, 22.95, 23.05, 23.1, 23.2, 23.3,
           23.45, 23.55, 23.6, 23.75, 23.9, 23.95, 23.95]
nd_zd_v = [176, 140, 8, 12, 168, 36, 59, 233, 135, 126, 50, 258, 150, 248, 141, 67, 93, 273, 197,
           192, 210, 92, 234, 158, 195, 123, 123, 185, 293, 10, 272, 204, 207, 217, 214, 298, 271,
           159, 74, 293, 220, 272, 116, 287, 85, 188, 165, 142, 118, 93, 96, 128, 172, 221, 280,
           196, 258, 198, 78, 89, 168, 241, 285, 249, 117, 105, 190, 170, 126, 118, 215, 62, 37,
           169, 10, 158, 36, 94, 86, 8, 17, 15, 12, 8, 5, 22, 79, 95, 116, 155, 243, 260, 226, 130,
           146, 174, 161, 181, 194, 155, 183, 205, 165, 128, 120, 205, 186, 125, 2, 33, 126]

# Panel 6: optical depth
od_d98x_t = [0.9, 0.95, 1.3, 1.35, 1.4, 1.25, 1.7, 1.75, 1.8, 1.85, 1.9, 1.95, 2.05, 2.1, 2.15,
             2.3, 2.4, 2.95, 7.95, 7.9, 21.1, 21.15, 21.2, 21.25, 21.3, 21.5, 21.55, 21.55, 21.6,
             21.7, 21.75, 21.8, 21.85, 21.9, 21.95, 22.0, 22.05, 22.1, 22.15, 22.2, 22.6, 22.65,
             22.7, 22.75, 22.8, 22.85, 22.9, 22.95, 23.0, 23.05, 23.1, 23.15, 23.2, 23.3, 23.35,
             23.4, 23.45, 23.5, 23.55, 23.6, 23.65, 23.7, 23.75, 23.85, 23.9]
od_d98x_v = [4.5, 4.0, 6.5, 8.5, 9.5, 5.2, 9.0, 6.5, 8.0, 7.5, 10.0, 7.0, 5.5, 10.5, 9.5, 9.0,
             11.5, 4.8, 4.5, 3.5, 5.5, 7.5, 9.0, 11.0, 12.5, 25.5, 24.5, 26.0, 17.5, 15.5, 14.5,
             13.0, 11.5, 10.5, 9.5, 9.0, 8.5, 10.5, 12.5, 11.5, 6.5, 7.5, 8.5, 10.0, 11.0, 10.5,
             11.5, 12.0, 11.0, 12.5, 13.0, 12.0, 11.5, 9.5, 8.0, 7.0, 8.5, 7.5, 9.0, 7.0, 8.0, 10.0,
             9.5, 13.5, 14.5]
od_d98d_t = [0.05, 0.1, 0.75, 1.25, 2.2, 2.4, 2.45, 2.45, 21.05, 21.3, 21.35, 21.4, 21.4, 21.45,
             21.5, 21.6, 21.6, 21.45, 23.9, 23.95, 23.9]
od_d98d_v = [5.0, 3.5, 4.0, 5.5, 3.0, 12.5, 16.5, 3.5, 3.5, 18.5, 20.5, 22.5, 24.5, 27.0, 28.0,
             22.0, 20.0, 16.5, 20.0, 24.5, 18.0]
od_zx_t = [0.35, 0.45, 1.1, 1.3, 1.3, 1.35, 1.6, 1.7, 1.7, 1.75, 1.75, 1.8, 1.8, 1.85, 1.85, 1.9,
           1.9, 1.9, 1.95, 1.95, 2.1, 2.3, 2.3, 2.35, 2.35, 2.35, 2.35, 2.4, 2.4, 18.8, 18.85,
           19.25, 20.25, 20.3, 20.3, 20.25, 20.2, 20.35, 20.4, 20.45, 20.5, 20.5, 20.55, 20.65,
           20.7, 20.75, 20.8, 21.15, 21.2, 21.65, 21.7, 21.85, 21.9, 21.95, 22.0, 22.05, 22.5,
           22.55, 22.6, 22.65, 22.7, 22.75, 22.8, 22.85, 22.9, 22.95, 23.0, 23.05, 23.1, 23.15,
           23.15, 23.2, 23.25, 23.3, 23.4, 23.45, 23.5, 23.55, 23.6, 23.65, 23.65, 23.7, 23.75, 23.8]
od_zx_v = [4.5, 17.2, 12.3, 7.0, 9.8, 7.5, 4.5, 10.0, 12.8, 10.5, 14.0, 27.0, 29.3, 24.0, 15.0,
           13.5, 15.0, 4.5, 7.5, 14.0, 11.8, 31.5, 14.5, 46.0, 38.5, 26.5, 25.0, 17.5, 9.0, 9.0,
           6.5, 28.8, 55.3, 40.3, 36.5, 30.3, 14.0, 20.0, 33.2, 25.7, 17.3, 13.8, 9.5, 10.5, 17.5,
           14.5, 12.5, 6.5, 9.5, 9.0, 7.0, 5.5, 7.0, 4.0, 8.5, 8.0, 13.8, 8.0, 10.0, 16.5, 25.0,
           21.5, 11.5, 15.5, 18.0, 16.5, 19.5, 21.0, 13.5, 30.0, 16.5, 21.0, 12.0, 11.0, 18.0,
           15.0, 11.0, 12.0, 16.0, 24.0, 22.0, 12.5, 8.5, 7.5]
od_zd_t = [0.05, 0.1, 0.1, 0.35, 0.4, 0.45, 0.5, 0.7, 0.75, 0.8, 0.85, 0.9, 0.95, 1.05, 1.05, 1.1,
           1.15, 1.2, 1.3, 1.45, 1.5, 1.55, 2.0, 2.25, 2.4, 2.5, 2.95, 3.15, 3.15, 4.05, 4.05, 4.6,
           7.85, 7.95, 8.0, 8.05, 8.05, 8.35, 8.4, 8.4, 8.35, 8.55, 8.6, 8.6, 8.6, 8.9, 9.25, 9.25,
           9.7, 9.7, 9.7, 9.7, 9.8, 10.05, 10.05, 10.05, 10.45, 10.8, 10.85, 10.85, 10.9, 10.8,
           10.8, 11.0, 11.05, 11.15, 11.9, 12.9, 12.9, 12.95, 12.95, 12.95, 13.1, 13.15, 13.2,
           12.9, 18.1, 18.1, 18.2, 18.2, 18.2, 18.2, 18.3, 18.35, 18.5, 18.55, 18.7, 18.8, 18.9,
           19.0, 19.0, 19.05, 19.1, 19.15, 19.3, 19.3, 19.4, 19.6, 19.6, 19.7, 19.9, 19.9, 19.95,
           20.0, 20.05, 20.1, 20.15, 20.2, 20.25, 20.35, 20.4, 20.55, 20.6, 20.65, 20.8, 20.85,
           21.05, 21.1, 21.2, 21.25, 21.35, 21.4, 21.7, 21.8, 21.95, 22.0, 22.5, 22.6, 22.7, 22.75,
           22.9, 23.05, 23.2, 23.3, 23.6, 23.8, 23.9, 23.95, 23.95]
od_zd_v = [7.8, 6.5, 5.0, 1.1, 3.5, 1.2, 15.2, 9.0, 7.5, 5.5, 6.0, 4.5, 6.8, 9.9, 3.3, 5.8, 3.4,
           8.5, 4.5, 13.2, 2.8, 4.0, 19.7, 9.5, 6.3, 17.5, 15.7, 18.2, 14.5, 12.9, 10.6, 6.5, 9.8,
           9.2, 8.5, 10.3, 5.0, 2.5, 3.7, 7.0, 10.0, 12.5, 11.5, 9.7, 7.9, 14.0, 14.7, 13.0, 34.2,
           30.2, 20.2, 19.3, 12.6, 11.9, 10.1, 5.9, 16.1, 35.8, 31.5, 27.2, 22.6, 18.8, 8.1, 6.5,
           16.0, 8.8, 8.7, 17.7, 13.3, 12.8, 8.0, 8.7, 18.1, 10.2, 4.7, 4.8, 10.9, 4.7, 15.8, 14.2,
           7.9, 6.5, 6.0, 7.5, 20.4, 11.2, 4.7, 10.3, 9.8, 40.2, 14.2, 5.8, 12.9, 4.9, 9.3, 4.0,
           10.6, 12.5, 7.3, 6.5, 12.5, 9.0, 5.5, 13.3, 6.9, 8.5, 9.3, 34.8, 34.2, 23.0, 18.8, 2.2,
           3.4, 0.6, 3.7, 4.3, 3.4, 2.3, 15.1, 14.3, 27.0, 22.3, 7.6, 5.4, 3.1, 4.5, 5.0, 12.7,
           16.0, 14.8, 12.0, 15.0, 10.5, 5.8, 6.8, 11.6, 15.2, 27.2, 21.8]

# ---------------- styling ----------------
W, H = 3825, 7125
MBLUE = '#0072BD'
DARK = '#262626'
ORANGE = '#FF8800'
BLUE = '#0000FF'
BROWN = '#A52A2A'
FONT = 'DejaVu Sans'

def px_x(p):
    return p / W

def px_y(p):
    return 1 - p / H

x_dom = [px_x(371), px_x(2998)]
panel_px = [(296, 1196), (1427, 2328), (2550, 3451), (3673, 4573), (4796, 5696), (5928, 6828)]

jet = [[0.0, 'rgb(0,0,128)'], [0.125, 'rgb(0,0,255)'], [0.375, 'rgb(0,255,255)'],
       [0.625, 'rgb(255,255,0)'], [0.875, 'rgb(255,0,0)'], [1.0, 'rgb(128,0,0)']]

fig = go.Figure()

# ---- panel 1: reflectivity heatmap ----
grid_t = np.arange(0.0125, 24.0, 0.025)
grid_z = np.arange(0.2125, 1.8, 0.025)
refl = np.full((len(grid_z), len(grid_t)), np.nan)

def paint(t0, width, z0, z1, dbz):
    ti = (grid_t >= t0) & (grid_t < t0 + width)
    zi = (grid_z >= z0) & (grid_z < z1)
    refl[np.ix_(zi, ti)] = dbz

for t, top, dbz in zip(clutter_t, clutter_top, clutter_dbz):
    paint(t, 0.025, 0.2, top, dbz)
for col in kazr_cols:
    paint(*col)

cb_vals = [-60, -50, -40, -30, -20, -10, 0, 10, 20]
pad = '\u00a0' * 4  # pushes the colorbar title a little further right
fig.add_trace(go.Heatmap(
    x=grid_t, y=grid_z, z=refl, zmin=-60, zmax=20, colorscale=jet, showlegend=False,
    xaxis='x', yaxis='y', hoverinfo='skip',
    colorbar=dict(
        thickness=187, thicknessmode='pixels', len=900, lenmode='pixels',
        x=px_x(3091), xanchor='left', xpad=0, y=px_y(746), yanchor='middle', ypad=0,
        outlinewidth=2, outlinecolor=DARK, ticks='inside', ticklen=12, tickcolor=DARK,
        tickvals=cb_vals, ticktext=[str(v) + pad for v in cb_vals],
        tickfont=dict(size=37, color=DARK, family=FONT),
        title=dict(text='ARM KAZR GE Mode<br>Merged Reflectivity, dBZ', side='right',
                   font=dict(size=37, color=DARK, family=FONT)),
    ),
))
fig.add_trace(go.Scatter(
    x=ceil_t, y=ceil_z, mode='markers', showlegend=False, xaxis='x', yaxis='y',
    marker=dict(color='black', size=10),
))

# ---- panel 2: DQ flags ----
def runs_xy(runs):
    xs, ys = [], []
    for lvl, a, b in runs:
        xs += [a, b, None]
        ys += [lvl, lvl, None]
    return xs, ys

def dots_xy(levels, times):
    xs, ys = [], []
    for lvl, ts in zip(levels, times):
        xs += ts
        ys += [lvl] * len(ts)
    return xs, ys

rx, ry = runs_xy(d98_runs)
fig.add_trace(go.Scatter(x=rx, y=ry, mode='lines', line=dict(color=ORANGE, width=9),
                         showlegend=False, xaxis='x2', yaxis='y2'))
dx, dy = dots_xy(d98_levels, d98_times)
fig.add_trace(go.Scatter(x=dx, y=dy, mode='markers', marker=dict(color=ORANGE, size=8),
                         showlegend=False, xaxis='x2', yaxis='y2'))
rx, ry = runs_xy(zlwp_runs)
fig.add_trace(go.Scatter(x=rx, y=ry, mode='lines', line=dict(color=BLUE, width=9),
                         showlegend=False, xaxis='x2', yaxis='y2'))
dx, dy = dots_xy(zlwp_levels, zlwp_times)
fig.add_trace(go.Scatter(x=dx, y=dy, mode='markers', marker=dict(color=BLUE, size=9),
                         showlegend=False, xaxis='x2', yaxis='y2'))

# ---- panel 3: LWP ----
fig.add_trace(go.Scatter(x=lwp_t, y=lwp_v, mode='lines', name='MWR3C LWP corrected',
                         line=dict(color=BROWN, width=3), connectgaps=False,
                         xaxis='x3', yaxis='y3', legend='legend'))
fig.add_trace(go.Scatter(x=lwp_mark_t, y=lwp_mark_v, mode='markers', showlegend=False,
                         marker=dict(color=BROWN, symbol='x', size=18), xaxis='x3', yaxis='y3'))

# ---- panels 4-6: scatter ----
def scatter_panel(n, dx_t, dx_v, dd_t, dd_v, zx_t, zx_v, zd_t, zd_v, name1, name2):
    ax, ay, lg = 'x%d' % n, 'y%d' % n, 'legend%d' % (n - 2)
    fig.add_trace(go.Scatter(x=dd_t, y=dd_v, mode='markers', showlegend=False,
                             marker=dict(color=ORANGE, size=8), xaxis=ax, yaxis=ay))
    fig.add_trace(go.Scatter(x=zd_t, y=zd_v, mode='markers', showlegend=False,
                             marker=dict(color=BLUE, size=8), xaxis=ax, yaxis=ay))
    fig.add_trace(go.Scatter(x=dx_t, y=dx_v, mode='markers', name=name1, legend=lg,
                             marker=dict(color=ORANGE, symbol='x', size=20), xaxis=ax, yaxis=ay))
    fig.add_trace(go.Scatter(x=zx_t, y=zx_v, mode='markers', name=name2, legend=lg,
                             marker=dict(color=BLUE, symbol='x', size=20), xaxis=ax, yaxis=ay))

scatter_panel(4, re_d98x_t, re_d98x_v, re_d98d_t, re_d98d_v, re_zx_t, re_zx_v, re_zd_t, re_zd_v,
              'D98 Re', 'Z-LWP')
scatter_panel(5, nd_d98x_t, nd_d98x_v, nd_d98d_t, nd_d98d_v, nd_zx_t, nd_zx_v, nd_zd_t, nd_zd_v,
              'D98 Nd', 'Z-LWP Nd')
scatter_panel(6, od_d98x_t, od_d98x_v, od_d98d_t, od_d98d_v, od_zx_t, od_zx_v, od_zd_t, od_zd_v,
              'D98 OD', 'Z-LWP Nd')

# ---------------- layout ----------------
y_titles = [
    'Altitude, AGL km',
    '<span style="color:%s">DQ Flag </span><span style="color:%s">D98 &amp; </span>'
    '<span style="color:%s">Z-LWP</span>' % (MBLUE, ORANGE, BLUE),
    'log10 Liquid Water Path, log10(g/m<sup>2</sup>)',
    'Effective Radius,<i>μ</i> m',
    'Droplet Concentration, #/cc',
    'Optical Depth',
]
y_ranges = [[0, 4], [-0.5, 11.5], [-0.1, 3.19], [-0.05, 20], [0, 300], [0, 58]]
y_ticks = [[0, 0.5, 1, 1.5, 2, 2.5, 3, 3.5, 4], [0, 2, 4, 6, 8, 10], [0, 0.5, 1, 1.5, 2, 2.5, 3],
           [0, 2, 4, 6, 8, 10, 12, 14, 16, 18, 20], [0, 50, 100, 150, 200, 250, 300],
           [0, 10, 20, 30, 40, 50]]

layout = dict(
    width=W, height=H, margin=dict(l=0, r=0, t=0, b=0),
    paper_bgcolor='white', plot_bgcolor='white',
    font=dict(family=FONT, size=37, color=DARK),
)
for i in range(6):
    n = i + 1
    top, bot = panel_px[i]
    xk = 'xaxis' if n == 1 else 'xaxis%d' % n
    yk = 'yaxis' if n == 1 else 'yaxis%d' % n
    layout[xk] = dict(
        domain=x_dom, anchor='y' if n == 1 else 'y%d' % n, range=[0, 24],
        tickvals=HOURS_TICKS, ticks='inside', ticklen=26, tickwidth=2, tickcolor=DARK,
        showline=True, linecolor=DARK, linewidth=3, showgrid=False, zeroline=False,
        tickfont=dict(size=37, color=DARK, family=FONT),
        title=dict(text='UTC hours on 20250321', font=dict(size=47, color=DARK, family=FONT),
                   standoff=18),
    )
    layout[yk] = dict(
        domain=[px_y(bot), px_y(top)], anchor='x' if n == 1 else 'x%d' % n,
        range=y_ranges[i], tickvals=y_ticks[i], ticks='inside', ticklen=26, tickwidth=2,
        tickcolor=MBLUE, showline=True, linecolor=MBLUE, linewidth=2, mirror=True,
        showgrid=False, zeroline=False, tickfont=dict(size=37, color=MBLUE, family=FONT),
        title=dict(text=y_titles[i], font=dict(size=48, color=MBLUE, family=FONT), standoff=62),
    )

leg_common = dict(bgcolor='rgba(0,0,0,0)', borderwidth=0, xanchor='left', yanchor='middle',
                  font=dict(size=35, color='black', family=FONT), tracegroupgap=0)
layout['legend'] = dict(leg_common, x=px_x(663), y=px_y(2601), itemwidth=290)
layout['legend2'] = dict(leg_common, x=px_x(1762), y=px_y(3767), itemwidth=320)
layout['legend3'] = dict(leg_common, x=px_x(1742), y=px_y(5070), itemwidth=320)
layout['legend4'] = dict(leg_common, x=px_x(1742), y=px_y(6016), itemwidth=320)

fig.update_layout(**layout)
fig.write_html('out.html')
